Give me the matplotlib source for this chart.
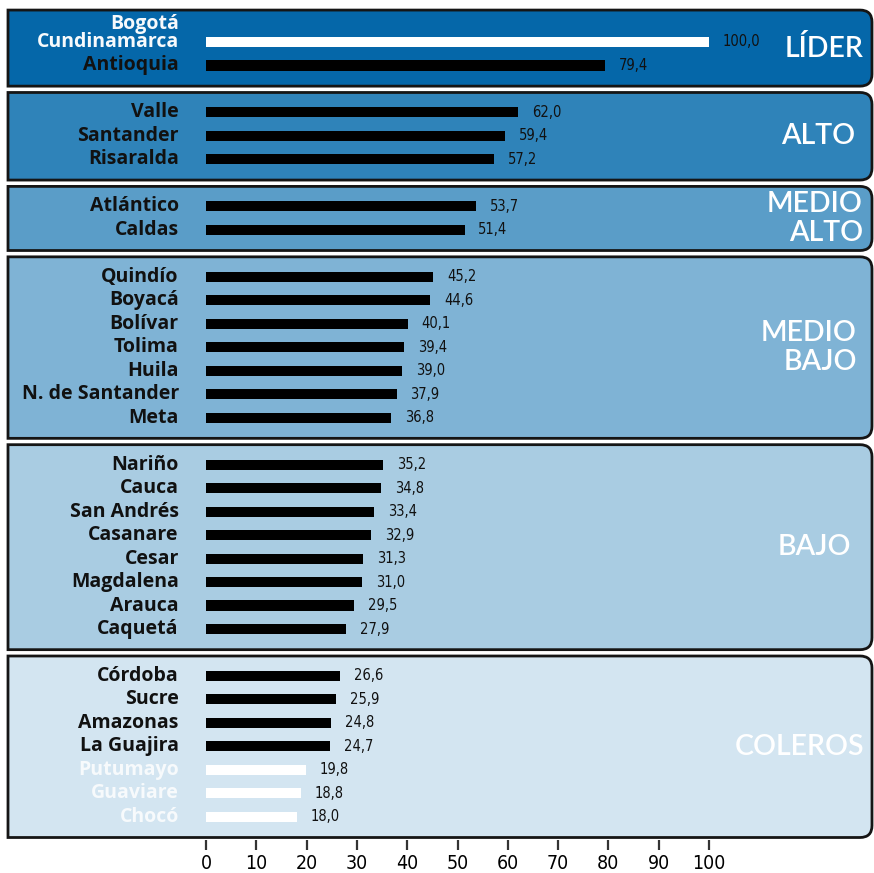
import numpy as np
import matplotlib
matplotlib.use("Agg")
import matplotlib.pyplot as plt
from matplotlib.path import Path
from matplotlib.patches import PathPatch

# data
groups = ["LÍDER", "ALTO", "MEDIO\nALTO", "MEDIO\nBAJO", "BAJO", "COLEROS"]
names = [
    ["Bogotá\nCundinamarca", "Antioquia"],
    ["Valle", "Santander", "Risaralda"],
    ["Atlántico", "Caldas"],
    ["Quindío", "Boyacá", "Bolívar", "Tolima", "Huila", "N. de Santander", "Meta"],
    ["Nariño", "Cauca", "San Andrés", "Casanare", "Cesar", "Magdalena", "Arauca", "Caquetá"],
    ["Córdoba", "Sucre", "Amazonas", "La Guajira", "Putumayo", "Guaviare", "Chocó"],
]
values = [
    [100.0, 79.4],
    [62.0, 59.4, 57.2],
    [53.7, 51.4],
    [45.2, 44.6, 40.1, 39.4, 39.0, 37.9, 36.8],
    [35.2, 34.8, 33.4, 32.9, 31.3, 31.0, 29.5, 27.9],
    [26.6, 25.9, 24.8, 24.7, 19.8, 18.8, 18.0],
]
highlight = ["Bogotá\nCundinamarca", "Putumayo", "Guaviare", "Chocó"]
ticks = list(range(0, 101, 10))

panel_colors = ["#0567a9", "#2f83b9", "#5a9dc8", "#7fb3d5", "#a9cce2", "#d3e5f1"]
group_label_x = [864, 855, 863, 857, 851, 864]  # right edge, pixels

fig = plt.figure(figsize=(8.74, 8.73), dpi=100)
W, H = 874, 873
ax_bottom_px = 840
ax = fig.add_axes([0, (H - ax_bottom_px) / H, 1, ax_bottom_px / H])

x0_px, px_per_unit = 206, 5.03
row0_px, px_per_row = 42, 23.48
ax.set_xlim(-x0_px / px_per_unit, (W - x0_px) / px_per_unit)
ax.set_ylim((ax_bottom_px - row0_px) / px_per_row, -row0_px / px_per_row)

label_font = ["Open Sans", "DejaVu Sans"]
group_font = ["Lato", "DejaVu Sans"]
num_font = ["DejaVu Sans"]

panel_left = (8 - x0_px) / px_per_unit
panel_right = (872 - x0_px) / px_per_unit
rx = 12 / px_per_unit
ry = 12 / px_per_row


def panel(top, bottom, color):
    verts = [(panel_left, top), (panel_right - rx, top), (panel_right, top),
             (panel_right, top + ry), (panel_right, bottom - ry), (panel_right, bottom),
             (panel_right - rx, bottom), (panel_left, bottom), (panel_left, top)]
    codes = [Path.MOVETO, Path.LINETO, Path.CURVE3, Path.CURVE3, Path.LINETO,
             Path.CURVE3, Path.CURVE3, Path.LINETO, Path.CLOSEPOLY]
    ax.add_patch(PathPatch(Path(verts, codes), facecolor=color,
                           edgecolor="#151515", lw=2, zorder=1))


pos = 0
for g, (grp, nm, vals) in enumerate(zip(groups, names, values)):
    ys = np.arange(pos, pos + len(nm))
    top_pad = 1.36 if g == 0 else 0.85
    panel(ys[0] - top_pad, ys[-1] + 0.88, panel_colors[g])
    for y, n, v in zip(ys, nm, vals):
        white = n in highlight
        ax.barh(y, v, height=0.43, color="white" if white else "black", zorder=3)
        ty = y - 0.38 * n.count("\n")
        ax.text(-5.4, ty, n, ha="right", va="center", ma="right", fontsize=14,
                fontweight="bold", family=label_font, linespacing=0.9,
                color="#f7fafc" if white else "#111111", zorder=4)
        ax.annotate(f"{v:.1f}".replace(".", ","), (v, y), xytext=(10, 0),
                    textcoords="offset points", ha="left", va="center",
                    fontsize=10.5, family=num_font, fontstretch="condensed",
                    color="#111111", zorder=4)
    gy = (ys[0] - top_pad + ys[-1] + 0.88) / 2
    ax.text((group_label_x[g] - x0_px) / px_per_unit, gy, grp, ha="right", va="center",
            ma="right", fontsize=20.5, fontweight="semibold", family=group_font,
            color="white", linespacing=1.12, zorder=4)
    pos += len(nm) + 1

ax.set_xticks(ticks)
ax.set_xticklabels([str(t) for t in ticks])
for lbl in ax.get_xticklabels():
    lbl.set_family(num_font)
    lbl.set_fontstretch("condensed")
    lbl.set_fontsize(14)
ax.tick_params(axis="x", direction="out", length=7, width=1.6, color="#333333", pad=3)
ax.set_yticks([])
for s in ["top", "left", "right", "bottom"]:
    ax.spines[s].set_visible(False)
ax.set_facecolor("none")

fig.savefig("out.png", dpi=100)
